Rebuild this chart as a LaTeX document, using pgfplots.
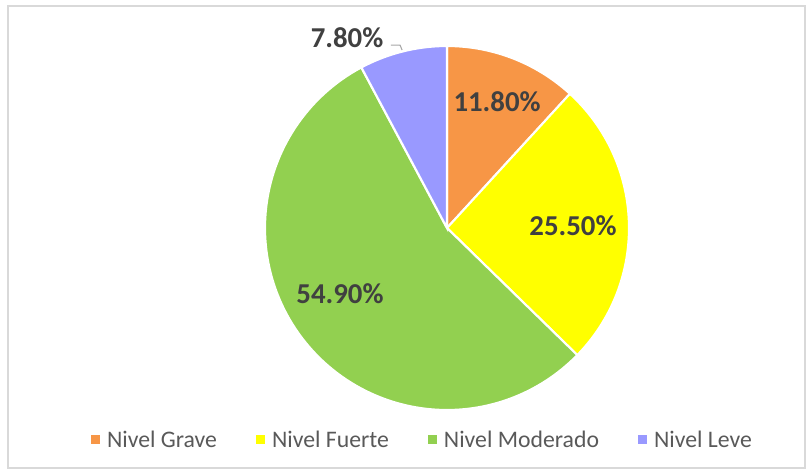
\documentclass[border=0pt]{standalone}
\usepackage{pgfplots}
\pgfplotsset{compat=1.18}
\usepackage{fontspec}
\setmainfont{Carlito}

\definecolor{cGrave}{HTML}{F79646}
\definecolor{cFuerte}{HTML}{FFFF00}
\definecolor{cModerado}{HTML}{92D050}
\definecolor{cLeve}{HTML}{9999FF}
\definecolor{labgray}{HTML}{404040}
\definecolor{leggray}{HTML}{595959}
\definecolor{framegray}{HTML}{D9D9D9}

% porcentajes
\def\pGrave{11.8}
\def\pFuerte{25.5}
\def\pModerado{54.9}
\def\pLeve{7.8}

\begin{document}
\begin{tikzpicture}[x=0.75pt,y=0.75pt,
    lab/.style={font=\fontsize{21.6}{26}\selectfont\bfseries, text=labgray, inner sep=0pt}]
\path[use as bounding box] (0,0) rectangle (812,475);
\draw[framegray, line width=0.9pt] (8,7) rectangle (805,469);

\pgfmathsetmacro{\aA}{90-3.6*\pGrave}
\pgfmathsetmacro{\aB}{\aA-3.6*\pFuerte}
\pgfmathsetmacro{\aC}{\aB-3.6*\pModerado}
\pgfmathsetmacro{\aD}{\aC-3.6*\pLeve}

\begin{axis}[
    at={(335.25pt,185.25pt)}, anchor=origin,
    x=136.5pt, y=136.5pt,
    xmin=-1, xmax=1, ymin=-1, ymax=1,
    hide axis, clip=false,
    legend columns=4,
    legend style={at={(0.434,-0.082)}, anchor=center, draw=none, fill=none,
        font=\fontsize{17.8}{20}\selectfont\color{leggray},
        /tikz/every odd column/.append style={column sep=3pt},
        /tikz/every even column/.append style={column sep=27.5pt}},
    legend image code/.code={\fill[#1, draw=none] (0pt,-3.4pt) rectangle (6.8pt,3.4pt);},
]
\addplot[fill=cGrave, draw=white, line width=1.6pt, data cs=polar, domain=\aA:90, samples=60] {1} -- (axis cs:0,0) -- cycle;
\addplot[fill=cFuerte, draw=white, line width=1.6pt, data cs=polar, domain=\aB:\aA, samples=80] {1} -- (axis cs:0,0) -- cycle;
\addplot[fill=cModerado, draw=white, line width=1.6pt, data cs=polar, domain=\aC:\aB, samples=150] {1} -- (axis cs:0,0) -- cycle;
\addplot[fill=cLeve, draw=white, line width=1.6pt, data cs=polar, domain=\aD:\aC, samples=40] {1} -- (axis cs:0,0) -- cycle;
\legend{Nivel Grave, Nivel Fuerte, Nivel Moderado, Nivel Leve}

\node[lab] at (axis cs:0.275,0.692) {11.80\%};
\node[lab] at (axis cs:0.692,0.011) {25.50\%};
\node[lab] at (axis cs:-0.588,-0.363) {54.90\%};
\node[lab] at (axis cs:-0.549,1.044) {7.80\%};
\draw[gray!70, line width=0.8pt] (axis cs:-0.308,1.005) -- (axis cs:-0.258,1.005) -- (axis cs:-0.247,0.978);
\end{axis}
\end{tikzpicture}
\end{document}
